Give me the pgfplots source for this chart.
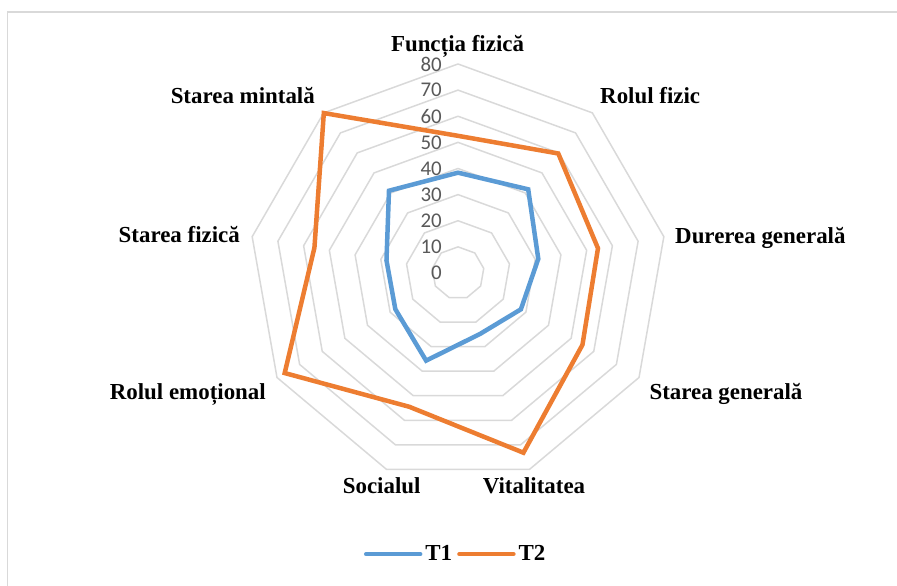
\documentclass[border=0pt]{standalone}
\usepackage{fontspec}
\setmainfont{Liberation Serif}
\newfontfamily\ticksfont{Carlito}
\usepackage{pgfplots}
\usepackage{pgfplotstable}
\pgfplotsset{compat=1.18}

\definecolor{seriesA}{HTML}{5B9BD5}
\definecolor{seriesB}{HTML}{ED7D31}
\definecolor{ringgray}{HTML}{D9D9D9}
\definecolor{ticktext}{HTML}{595959}

% SF-36 domain scores; angle in degrees (clockwise from the top), first row repeated to close the polygon
\pgfplotstableread{
angle t1   t2
90    38.4 52.5
50    41.8 59.7
10    31.2 54.4
-30   27.8 55.0
-70   24.8 73.2
-110  35.7 54.5
-150  27.7 76.6
170   27.8 55.8
130   41.1 79.9
90    38.4 52.5
}\scores

\begin{document}
\begin{tikzpicture}[x=1bp,y=1bp]
\useasboundingbox (0,0) rectangle (897,586);
% chart area frame
\draw[ringgray, line width=1.5bp] (7.5,-20) -- (7.5,574) -- (920,574);
\begin{axis}[
  at={(458bp,313bp)}, anchor=origin,
  x=2.6125bp, y=2.6125bp,
  xmin=-90, xmax=90, ymin=-90, ymax=90,
  hide axis, clip=false,
  legend columns=2,
  legend image code/.code={\draw[#1, line cap=round] (0bp,0bp) -- (54bp,0bp);},
  legend style={at={(axis cs:-0.7,-107.6)}, anchor=center, draw=none, fill=none,
    font=\fontsize{23}{25}\selectfont\bfseries, inner sep=0pt,
    nodes={inner sep=3bp},
    /tikz/every even column/.append style={column sep=2bp}},
  ring/.style={ringgray, line width=1.5bp, forget plot, data cs=polar},
  series/.style={line width=4.5bp, line join=miter, line cap=round, data cs=polar},
]
% nonagon grid rings
\pgfplotsinvokeforeach{10,20,30,40,50,60,70,80}{
  \addplot[ring] coordinates {(90,#1) (50,#1) (10,#1) (-30,#1) (-70,#1) (-110,#1) (-150,#1) (170,#1) (130,#1) (90,#1)};
}
% radial value labels
\pgfplotsinvokeforeach{0,10,20,30,40,50,60,70,80}{
  \node[anchor=east, inner sep=0pt, xshift=-16bp, text=ticktext,
        font=\ticksfont\fontsize{21}{23}\selectfont] at (axis cs:0,#1) {#1};
}
\addplot[series, seriesA] table[x=angle, y=t1] {\scores};
\addlegendentry{T1}
\addplot[series, seriesB] table[x=angle, y=t2] {\scores};
\addlegendentry{T2}

% category labels
\begin{scope}[every node/.style={inner sep=0pt, font=\fontsize{23}{25}\selectfont\bfseries}]
\node[anchor=base, xshift=-0.5bp, yshift=221bp] at (axis cs:0,0) {Funcția fizică};
\node[anchor=base west, xshift=142bp, yshift=169.7bp] at (axis cs:0,0) {Rolul fizic};
\node[anchor=base west, xshift=217bp, yshift=29.7bp] at (axis cs:0,0) {Durerea generală};
\node[anchor=base west, xshift=191.3bp, yshift=-127bp] at (axis cs:0,0) {Starea generală};
\node[anchor=base west, xshift=24.7bp, yshift=-220.3bp] at (axis cs:0,0) {Vitalitatea};
\node[anchor=base east, xshift=-37.3bp, yshift=-220.3bp] at (axis cs:0,0) {Socialul};
\node[anchor=base east, xshift=-192bp, yshift=-127bp] at (axis cs:0,0) {Rolul emoțional};
\node[anchor=base east, xshift=-218bp, yshift=30.3bp] at (axis cs:0,0) {Starea fizică};
\node[anchor=base east, xshift=-143bp, yshift=169.7bp] at (axis cs:0,0) {Starea mintală};
\end{scope}
\end{axis}
\end{tikzpicture}
\end{document}
